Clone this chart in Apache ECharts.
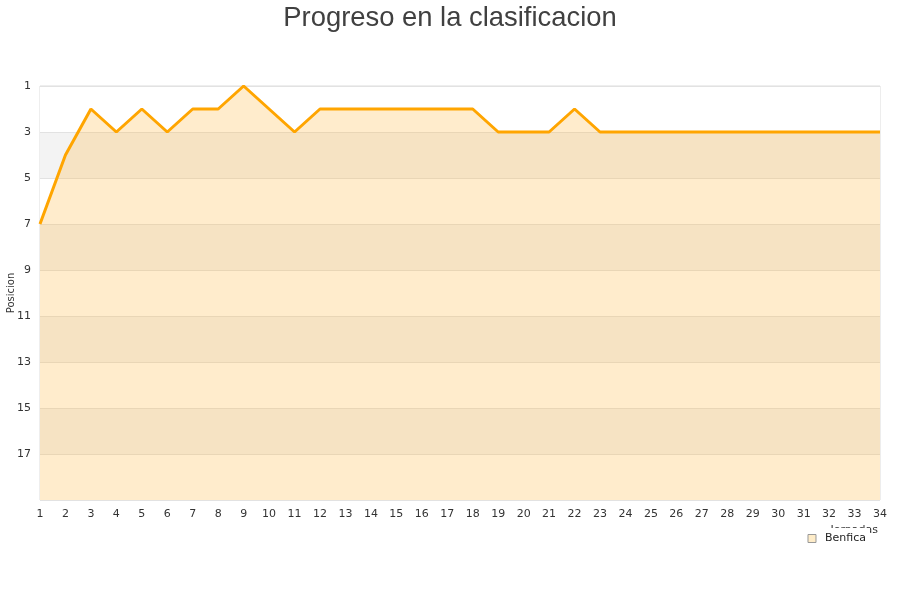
<!DOCTYPE html>
<html>
<head>
<meta charset="utf-8">
<script src="https://cdn.jsdelivr.net/npm/echarts@6/dist/echarts.min.js"></script>
<style>html,body{margin:0;padding:0;background:#fff}#c{width:900px;height:600px}</style>
</head>
<body>
<div id="c"></div>
<script>
var jornadas = ['1','2','3','4','5','6','7','8','9','10','11','12','13','14','15','16','17','18','19','20','21','22','23','24','25','26','27','28','29','30','31','32','33','34'];
var benfica = [7,4,2,3,2,3,2,2,1,2,3,2,2,2,2,2,2,2,3,3,3,2,3,3,3,3,3,3,3,3,3,3,3,3];
var yTicks = ['1','3','5','7','9','11','13','15','17'];

var chart = echarts.init(document.getElementById('c'), null, {renderer:'canvas'});
chart.setOption({
  animation: false,
  backgroundColor: '#fff',
  title: {
    text: 'Progreso en la clasificacion',
    left: 'center', top: 0,
    textStyle: {fontFamily: 'Liberation Sans, Arial, sans-serif', fontSize: 27.4, fontWeight: 'normal', color: '#404040'}
  },
  grid: {left: 40, right: 20, top: 86, bottom: 100, containLabel: false, outerBoundsMode: 'none', show: true, borderColor: '#dcdcdc', borderWidth: 1, backgroundColor: 'transparent'},
  legend: {
    data: [{name: 'Benfica', itemStyle: {color: '#feecc8', borderColor: '#999', borderWidth: 1}}],
    icon: 'rect', itemWidth: 8, itemHeight: 8, itemGap: 5,
    right: 30, top: 528,
    backgroundColor: '#fff', padding: [5, 4, 1, 8],
    textStyle: {fontFamily: 'DejaVu Sans, sans-serif', fontSize: 11, color: '#222', padding: [0, 0, 0, 4]}
  },
  xAxis: {
    type: 'category', data: jornadas, boundaryGap: false,
    name: 'Jornadas', nameLocation: 'end', nameGap: -2,
    nameTextStyle: {align: 'right', verticalAlign: 'top', padding: [25, 0, 0, 0], fontFamily: 'DejaVu Sans, sans-serif', fontSize: 11, color: '#333'},
    axisLine: {show: false}, axisTick: {show: false},
    axisLabel: {interval: 0, margin: 9, fontFamily: 'DejaVu Sans, sans-serif', fontSize: 11, color: '#333'},
    splitLine: {show: false}
  },
  yAxis: {
    type: 'value', inverse: true, min: 1, max: 19, interval: 2,
    name: 'Posicion', nameLocation: 'middle', nameGap: 24, nameMoveOverlap: false,
    nameTextStyle: {fontFamily: 'DejaVu Sans, sans-serif', fontSize: 10, color: '#333'},
    axisLine: {show: false}, axisTick: {show: false},
    axisLabel: {margin: 9, fontFamily: 'DejaVu Sans, sans-serif', fontSize: 11, color: '#333',
      formatter: function(v){ return yTicks.indexOf(String(v)) >= 0 ? String(v) : ''; }},
    splitLine: {show: true, lineStyle: {color: '#e2e2e2', width: 1}},
    splitArea: {show: true, areaStyle: {color: ['#ffffff', '#f3f3f3']}}
  },
  series: [{
    name: 'Benfica', type: 'line', data: benfica,
    symbol: 'none', smooth: false,
    lineStyle: {color: '#ffa500', width: 3},
    itemStyle: {color: '#ffa500'},
    areaStyle: {origin: 'end', color: 'rgba(255,179,51,0.25)', opacity: 1}
  }]
});
</script>
</body>
</html>
